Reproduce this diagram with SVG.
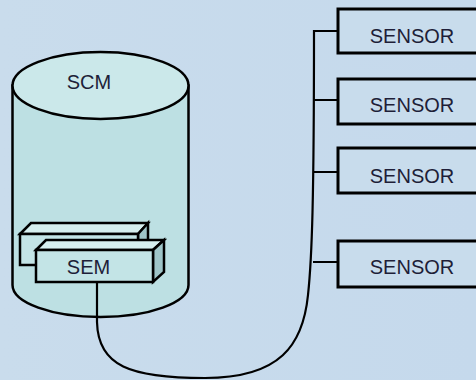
<svg xmlns="http://www.w3.org/2000/svg" width="476" height="380" viewBox="0 0 476 380">
  <defs>
    <linearGradient id="bg" x1="0" y1="0" x2="1" y2="0">
      <stop offset="0" stop-color="#c9dcec"/>
      <stop offset="1" stop-color="#c5d9ec"/>
    </linearGradient>
    <style>
      .lbl { font-family: "Liberation Sans", Arial, sans-serif; font-size: 20px; fill: #1e1e38; text-anchor: middle; }
      .edge { fill: none; stroke: #000; stroke-width: 2.2; }
      .sensor rect { fill: #c8dcec; stroke: #000; stroke-width: 3; }
      .cyl { stroke: #000; stroke-width: 2.5; }
      .box { stroke: #000; stroke-width: 2.5; stroke-linejoin: miter; }
      .front { fill: #c3e4e6; }
      .top { fill: #d6efef; }
      .side { fill: #9fc5c8; }
    </style>
  </defs>

  <rect x="0" y="0" width="476" height="380" fill="url(#bg)"/>

  <!-- storage cylinder -->
  <g id="scm">
    <path class="cyl" d="M12.5,85.5 V285 A88,32 0 0 0 188.5,285 V85.5 Z" fill="#bde0e3"/>
    <ellipse class="cyl" cx="100.5" cy="85.5" rx="88" ry="33.5" fill="#cbe8ea"/>
    <text class="lbl" x="89" y="89">SCM</text>
  </g>

  <!-- rear module -->
  <g id="sem-back">
    <path class="box top" d="M20,234 L31,223 L148,223 L138,234 Z"/>
    <path class="box side" d="M138,234 L148,223 L148,254 L138,265 Z"/>
    <rect class="box front" x="20" y="234" width="118" height="31"/>
  </g>

  <!-- front module -->
  <g id="sem">
    <path class="box top" d="M36,250 L46,240 L164,240 L153,250 Z"/>
    <path class="box side" d="M153,250 L164,240 L164,272 L153,282 Z"/>
    <rect class="box front" x="36" y="250" width="117" height="32"/>
    <text class="lbl" x="88.5" y="274">SEM</text>
  </g>

  <!-- cabling -->
  <g id="connectors">
    <path class="edge" d="M97,283 V322 C98,366 130,378 205,378 C280,378 303,345 308,295 C312,258 314,200 314,30"/>
    <path class="edge" d="M313,31 H338 M314,100 H338 M314,172 H338 M313,262 H338"/>
  </g>

  <!-- sensors -->
  <g id="sensor-1" class="sensor">
    <rect x="338" y="9" width="160" height="44"/>
    <text class="lbl" x="412" y="43">SENSOR</text>
  </g>
  <g id="sensor-2" class="sensor">
    <rect x="338" y="79" width="160" height="45"/>
    <text class="lbl" x="412" y="112">SENSOR</text>
  </g>
  <g id="sensor-3" class="sensor">
    <rect x="338" y="148" width="160" height="45"/>
    <text class="lbl" x="412" y="183">SENSOR</text>
  </g>
  <g id="sensor-4" class="sensor">
    <rect x="338" y="241" width="160" height="46"/>
    <text class="lbl" x="412" y="274">SENSOR</text>
  </g>
</svg>
